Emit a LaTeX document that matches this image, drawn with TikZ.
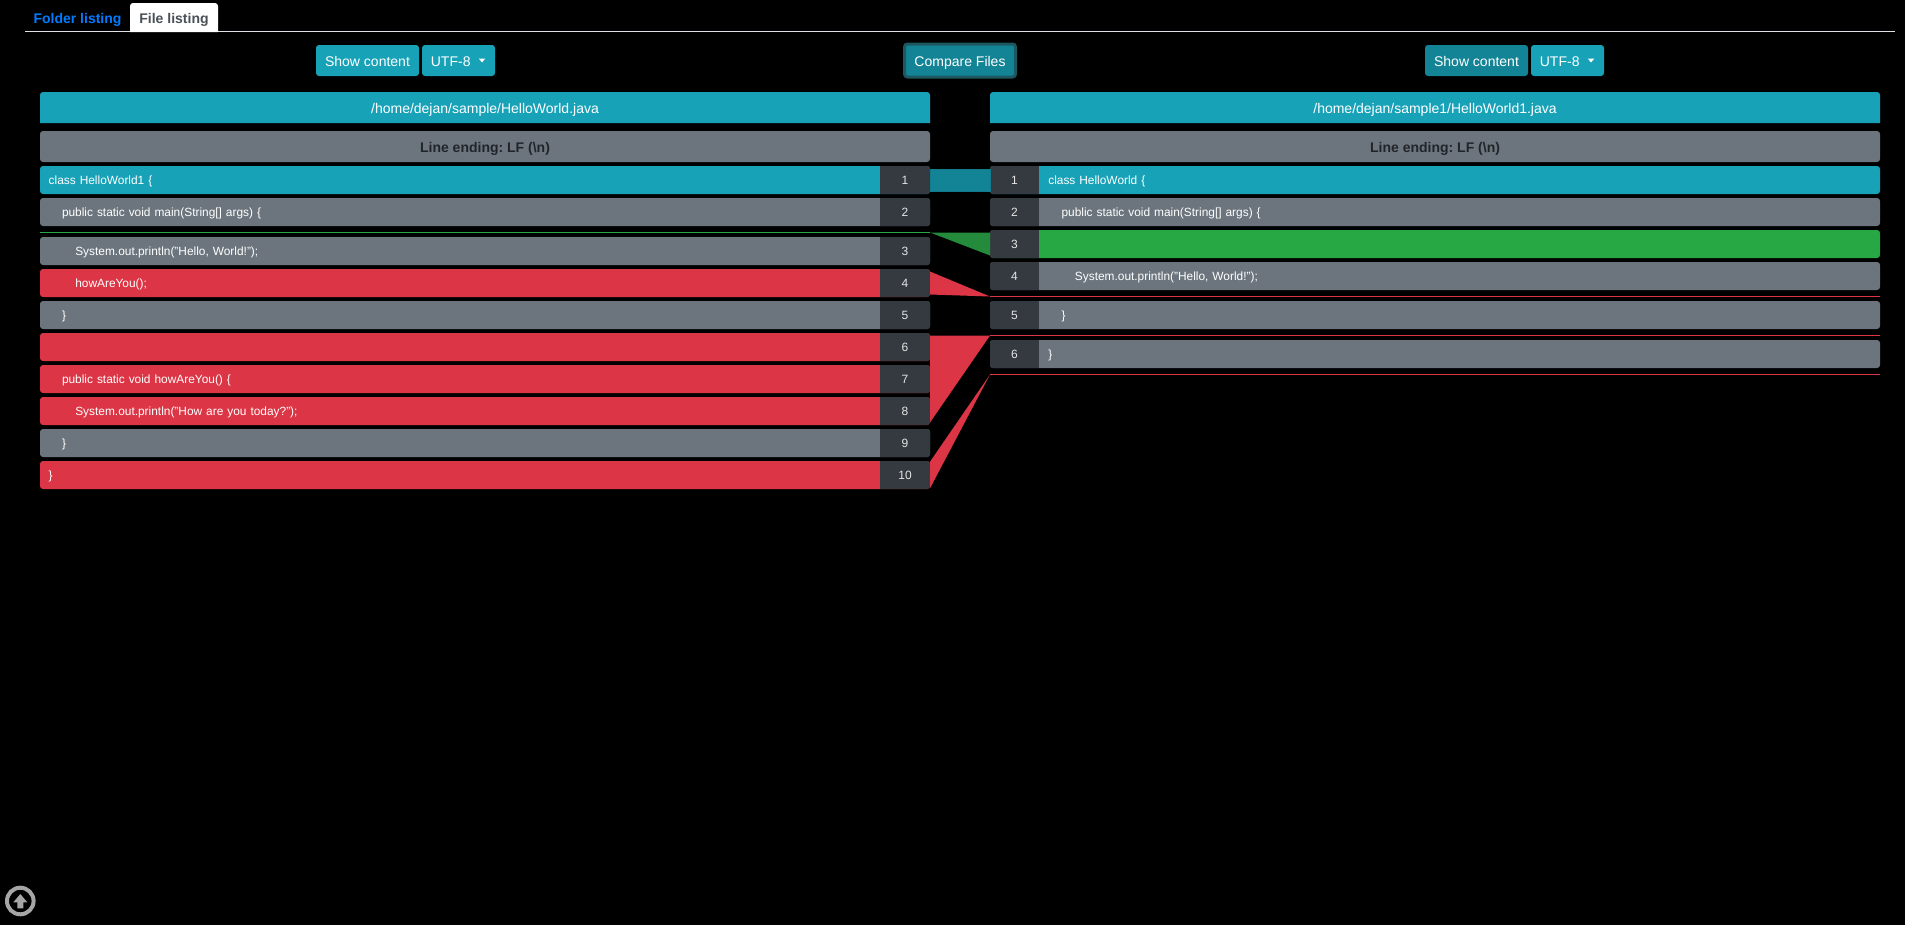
\documentclass[tikz,border=0pt]{standalone}
\usepackage{fontspec}
\setmainfont{Liberation Sans}
\usepackage{tikz}
\usetikzlibrary{positioning}
\definecolor{infoc}{HTML}{17A2B8}
\definecolor{infodark}{HTML}{138496}
\definecolor{bandc}{HTML}{117A8B}
\definecolor{ringc}{HTML}{1D5861}
\definecolor{grayc}{HTML}{6C757D}
\definecolor{cellc}{HTML}{343A40}
\definecolor{redc}{HTML}{DC3545}
\definecolor{greenc}{HTML}{28A745}
\definecolor{greenband}{HTML}{238B3B}
\definecolor{sepc}{HTML}{DEE2E6}
\definecolor{upc}{HTML}{A6A6A6}
\definecolor{linkc}{HTML}{007BFF}
\definecolor{tabc}{HTML}{495057}
\definecolor{darkc}{HTML}{212529}
\newcommand{\ind}{\hspace*{13.3pt}}
\begin{document}
\begin{tikzpicture}[x=1pt, y=-1pt, node distance = 4pt, outer sep=0pt,
		big/.style={font=\frenchspacing\fontsize{14}{16}\selectfont, text height=11pt, text depth=0pt, inner sep=0pt},
		bold/.style={big, font=\frenchspacing\fontsize{14}{16}\selectfont\bfseries},
		btn/.style={big, text=white, fill=infoc, rounded corners=3pt, minimum height=31pt},
		bar/.style={big, text=white},
		endbar/.style={bold, text=darkc, fill=grayc, rounded corners=3pt, minimum width=890pt, minimum height=31pt},
		row/.style={font=\frenchspacing\fontsize{11.9}{14}\selectfont, text=white, text height=8.6pt, text depth=0pt, inner sep=0pt, rounded corners=3pt, minimum height=28pt, text width=890pt, align=left},
		rowL/.style={row, execute at begin node={\hspace*{8.7pt}}, path picture={\fill[cellc, sharp corners] ([xshift=-50pt]path picture bounding box.north east) rectangle (path picture bounding box.south east);}},
		rowR/.style={row, execute at begin node={\hspace*{58.3pt}}, path picture={\fill[cellc, sharp corners] (path picture bounding box.north west) rectangle ([xshift=49pt]path picture bounding box.south west);}},
		num/.style={font=\fontsize{12}{14}\selectfont, text=white!90!black, text height=8.6pt, text depth=0pt, inner sep=0pt},
		redline/.style={draw=redc, line width=1.3pt}]
	\useasboundingbox (0,0) rectangle (1905,924);
	\fill[black] (-3,-3) rectangle (1908,927);
	% tabs
	\coordinate (tabA) at (25,31.5);
	\coordinate (tabB) at (1895,31.5);
	\draw[sepc, line width=1pt] (tabA) -- (tabB);
	\fill[white] (130,32) {[rounded corners=3pt] -- (130,3) -- (218,3)} -- (218,32) -- cycle;
	\node[bold, text=linkc] (tabFolder) at (77.5,18) {Folder listing};
	\node[bold, text=tabc] (tabFile) at (174,18) {File listing};
	% buttons
	\node[btn, minimum width=103pt] (showL) at (367.5,60.5) {Show content};
	\node[btn, minimum width=73pt] (encL) at (458.5,60.5) {UTF-8\hspace*{15.6pt}};
	\fill[white] ([xshift=20.2pt,yshift=2pt]encL.center) -- +(6.6,0) -- +(3.3,4) -- cycle;
	\node[btn, fill=infodark, draw=ringc, line width=3pt, minimum width=111pt, minimum height=33pt] (compare) at (960,60.5) {Compare Files};
	\node[btn, fill=infodark, minimum width=103pt] (showR) at (1476.5,60.5) {Show content};
	\node[btn, minimum width=73pt] (encR) at (1567.5,60.5) {UTF-8\hspace*{15.6pt}};
	\fill[white] ([xshift=20.2pt,yshift=2pt]encR.center) -- +(6.6,0) -- +(3.3,4) -- cycle;
	% file headers
	\fill[infoc] (40,123) {[rounded corners=3pt] -- (40,92) -- (930,92)} -- (930,123) -- cycle;
	\fill[infoc] (990,123) {[rounded corners=3pt] -- (990,92) -- (1880,92)} -- (1880,123) -- cycle;
	\node[bar] (pathL) at (485,107.5) {/home/dejan/sample/HelloWorld.java};
	\node[bar] (pathR) at (1435,107.5) {/home/dejan/sample1/HelloWorld1.java};
	\node[endbar] (endL) at (485,146.5) {Line ending: LF (\textbackslash n)};
	\node[endbar] (endR) at (1435,146.5) {Line ending: LF (\textbackslash n)};
	% left file
	\node[rowL, fill=infoc] (rowL1) at (485,180) {class HelloWorld1 \{};
	\node[rowL, fill=grayc, below=of rowL1] (rowL2) {\ind public static void main(String[] args) \{};
	\node[rowL, fill=grayc, below=11pt of rowL2] (rowL3) {\ind\ind System.out.println("Hello, World!");};
	\node[rowL, fill=redc, below=of rowL3] (rowL4) {\ind\ind howAreYou();};
	\node[rowL, fill=grayc, below=of rowL4] (rowL5) {\ind \}};
	\node[rowL, fill=redc, below=of rowL5] (rowL6) {};
	\node[rowL, fill=redc, below=of rowL6] (rowL7) {\ind public static void howAreYou() \{};
	\node[rowL, fill=redc, below=of rowL7] (rowL8) {\ind\ind System.out.println("How are you today?");};
	\node[rowL, fill=grayc, below=of rowL8] (rowL9) {\ind \}};
	\node[rowL, fill=redc, below=of rowL9] (rowL10) {\}};
	\node[num] (numL1) at ([xshift=-25pt]rowL1.east) {1};
	\node[num] (numL2) at ([xshift=-25pt]rowL2.east) {2};
	\node[num] (numL3) at ([xshift=-25pt]rowL3.east) {3};
	\node[num] (numL4) at ([xshift=-25pt]rowL4.east) {4};
	\node[num] (numL5) at ([xshift=-25pt]rowL5.east) {5};
	\node[num] (numL6) at ([xshift=-25pt]rowL6.east) {6};
	\node[num] (numL7) at ([xshift=-25pt]rowL7.east) {7};
	\node[num] (numL8) at ([xshift=-25pt]rowL8.east) {8};
	\node[num] (numL9) at ([xshift=-25pt]rowL9.east) {9};
	\node[num] (numL10) at ([xshift=-25pt]rowL10.east) {10};
	% right file
	\node[rowR, fill=infoc] (rowR1) at (1435,180) {class HelloWorld \{};
	\node[rowR, fill=grayc, below=of rowR1] (rowR2) {\ind public static void main(String[] args) \{};
	\node[rowR, fill=greenc, below=of rowR2] (rowR3) {};
	\node[rowR, fill=grayc, below=of rowR3] (rowR4) {\ind\ind System.out.println("Hello, World!");};
	\node[rowR, fill=grayc, below=11pt of rowR4] (rowR5) {\ind \}};
	\node[rowR, fill=grayc, below=11pt of rowR5] (rowR6) {\}};
	\node[num] (numR1) at ([xshift=24.5pt]rowR1.west) {1};
	\node[num] (numR2) at ([xshift=24.5pt]rowR2.west) {2};
	\node[num] (numR3) at ([xshift=24.5pt]rowR3.west) {3};
	\node[num] (numR4) at ([xshift=24.5pt]rowR4.west) {4};
	\node[num] (numR5) at ([xshift=24.5pt]rowR5.west) {5};
	\node[num] (numR6) at ([xshift=24.5pt]rowR6.west) {6};
	% separators
	\coordinate (sepA) at (40,232.5);
	\coordinate (sepB) at (930,232.5);
	\coordinate (sepC) at (990,232.5);
	\coordinate (redA) at (990,296.5);
	\coordinate (redB) at (1880,296.5);
	\coordinate (redC) at (990,335.5);
	\coordinate (redD) at (1880,335.5);
	\coordinate (redE) at (990,374.5);
	\coordinate (redF) at (1880,374.5);
	\draw[greenc, line width=1pt] (sepA) -- (sepB);
	\draw[redline] (redA) -- (redB);
	\draw[redline] (redC) -- (redD);
	\draw[redline] (redE) -- (redF);
	% connectors
	\filldraw[fill=infodark, draw=bandc, line width=1pt] ([yshift=11pt]rowL1.east) -- ([yshift=11pt]rowR1.west) -- ([yshift=-11pt]rowR1.west) -- ([yshift=-11pt]rowL1.east) -- cycle;
	\fill[greenband] (sepB) -- (sepC) -- ([yshift=-11.5pt]rowR3.west) -- cycle;
	\fill[redc] ([yshift=11.5pt]rowL4.east) -- (redA) -- ([yshift=-11.5pt]rowL4.east) -- cycle;
	\fill[redc] ([yshift=11.5pt]rowL6.east) -- (redC) -- ([yshift=-11.5pt]rowL8.east) -- cycle;
	\fill[redc] ([yshift=13.3pt]rowL10.east) -- (redE) -- ([yshift=-13.3pt]rowL10.east) -- cycle;
	% back to top
	\node[circle, draw=upc, line width=4pt, minimum size=26.6pt, inner sep=0pt] (upBtn) at (20.3,901) {};
	\fill[upc] ([yshift=7pt]upBtn.center) -- ([xshift=7pt,yshift=-1.3pt]upBtn.center) -- ([xshift=3pt,yshift=-1.3pt]upBtn.center) -- ([xshift=3pt,yshift=-7.3pt]upBtn.center) -- ([xshift=-3pt,yshift=-7.3pt]upBtn.center) -- ([xshift=-3pt,yshift=-1.3pt]upBtn.center) -- ([xshift=-7pt,yshift=-1.3pt]upBtn.center) -- cycle;
\end{tikzpicture}
\end{document}
